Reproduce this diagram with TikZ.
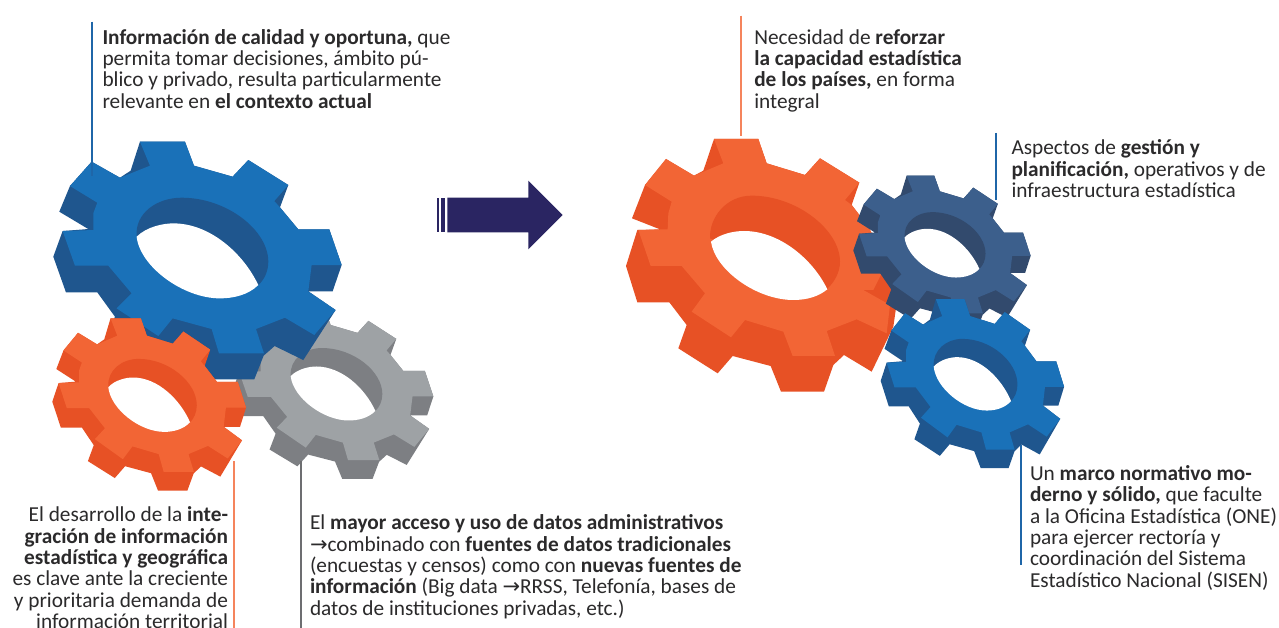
\documentclass[tikz,border=0pt]{standalone}
\usepackage{fontspec}
\setmainfont{Carlito}
\newfontfamily\arrowfont{DejaVu Sans}
\definecolor{blueL}{HTML}{1A71B8}
\definecolor{blueD}{HTML}{1F568E}
\definecolor{orangeL}{HTML}{F26535}
\definecolor{orangeD}{HTML}{E75125}
\definecolor{greyL}{HTML}{9EA2A5}
\definecolor{greyD}{HTML}{7D7F83}
\definecolor{navyL}{HTML}{3C5F8C}
\definecolor{navyD}{HTML}{324A6D}
\definecolor{arrowC}{HTML}{2A2562}
\definecolor{txt}{HTML}{2B2A2B}
\definecolor{leadO}{HTML}{F5845C}
\definecolor{leadB}{HTML}{1F66A8}
\definecolor{leadG}{HTML}{6D6E71}
\newcommand{\fl}{\rule{0pt}{16pt}}
\newcommand{\arr}{{\arrowfont\fontsize{21}{21.35}\selectfont →}}
\tikzset{
  textblock/.style={inner sep=0pt,outer sep=0pt,text=txt,font=\fontsize{21.3}{21.35}\selectfont},
  leftblock/.style={textblock,anchor=north west,align=left},
  rightblock/.style={textblock,anchor=north east,align=right},
  leader/.style={line width=1.8pt}
}
% \gearshape{X}{Y}{sx}{sy}{light}{dark}
\newcommand{\gearshape}[6]{%
\begin{scope}[shift={({#1-#3*40/3},{#2-#4*35/3})},xscale=#3/3,yscale=#4/3]
\fill[#6] (300,35)--(435,35)--(462,107)--(578,140)--(625,90)--(745,165)--(720,232)--(775,298)--(868,298)--(905,405)--(878,484)--(805,484)--(887,540)--(790,690)--(704,648)--(671,677)--(643,748)--(512,748)--(481,676)--(365,647)--(319,696)--(199,626)--(225,560)--(172,487)--(78,487)--(40,380)--(68,303)--(145,297)--(58,245)--(90,168)--(155,95)--(240,143)--(272,122)--cycle;
\fill[#5] (300,35)--(435,35)--(462,107)--(578,140)--(625,90)--(745,165)--(703,213)--(720,232)--(775,298)--(868,298)--(905,405)--(815,405)--(805,484)--(887,540)--(823,615)--(735,563)--(648,597)--(672,670)--(537,670)--(515,597)--(398,565)--(355,618)--(230,535)--(275,490)--(205,407)--(105,407)--(68,303)--(160,300)--(160,250)--(172,218)--(90,168)--(155,95)--(240,143)--(330,107)--cycle;
\fill[#6] (290,318) .. controls (285,250) and (350,203) .. (425,203) .. controls (560,203) and (685,300) .. (685,395) .. controls (685,425) and (672,450) .. (655,465) -- cycle;
\fill[white] (290,320) .. controls (320,290) and (370,280) .. (400,280) .. controls (510,280) and (610,370) .. (655,465) .. controls (625,495) and (580,505) .. (540,505) .. controls (430,505) and (300,410) .. (290,320) -- cycle;
\end{scope}}
\begin{document}
\begin{tikzpicture}[x=1pt,y=-1pt]
\useasboundingbox (0,0) rectangle (1279,628);
\fill[white] (0,0) rectangle (1279,628);
% left gears
\gearshape{232.7}{307.7}{.696}{.72}{greyL}{greyD}
\gearshape{53.3}{141.7}{1}{1}{blueL}{blueD}
\gearshape{52.3}{318.3}{.672}{.725}{orangeL}{orangeD}
% big orange gear, drawn to its own outline
\begin{scope}[shift={(620,130)},xscale=1/3,yscale=1/3]
\fill[orangeD] (282,27)--(415,27)--(440,100)--(555,135)--(600,85)--(718,158)--(695,225)--(745,290)--(800,400)--(830,520)--(820,590)--(755,725)--(672,675)--(640,705)--(612,785)--(483,785)--(452,708)--(338,678)--(293,730)--(175,655)--(200,585)--(148,517)--(52,517)--(18,408)--(52,300)--(120,298)--(36,265)--(75,165)--(138,87)--(222,137)--(250,122)--cycle;
\fill[orangeL] (282,27)--(415,27)--(440,100)--(555,135)--(600,85)--(718,158)--(675,210)--(695,225)--(745,290)--(800,400)--(760,480)--(730,480)--(810,525)--(800,610)--(710,568)--(620,603)--(645,678)--(518,678)--(490,605)--(375,570)--(333,622)--(215,545)--(255,490)--(185,408)--(92,408)--(55,300)--(143,298)--(145,250)--(155,215)--(75,165)--(138,87)--(222,137)--(310,100)--cycle;
\fill[orangeD] (270,325) .. controls (268,260) and (320,197) .. (395,197) .. controls (530,197) and (660,300) .. (660,395) .. controls (660,425) and (645,455) .. (620,478) -- cycle;
\fill[white] (273,335) .. controls (300,312) and (340,303) .. (372,303) .. controls (480,303) and (580,390) .. (622,478) .. controls (595,500) and (560,510) .. (520,510) .. controls (410,510) and (285,420) .. (273,335) -- cycle;
\end{scope}
% right gears
\gearshape{853.3}{175.7}{.615}{.65}{navyL}{navyD}
\gearshape{880.7}{299}{.636}{.712}{blueL}{blueD}
% arrow
\fill[arrowC] (436.7,197.7) rectangle (439.3,232.3);
\fill[arrowC] (441,197.7) rectangle (445.3,232.3);
\fill[arrowC] (447.3,197.7)--(528.3,197.7)--(528.3,180.7)--(562.7,215)--(528.3,249.3)--(528.3,232.3)--(447.3,232.3)--cycle;
% leaders
\coordinate (la) at (92.3,21.7); \coordinate (lb) at (92.3,176);
\coordinate (lc) at (234,461); \coordinate (ld) at (234,628);
\coordinate (le) at (300.7,461); \coordinate (lf) at (300.7,628);
\coordinate (lg) at (740.7,15.7); \coordinate (lh) at (740.7,136);
\coordinate (li) at (995.7,133); \coordinate (lj) at (995.7,200);
\coordinate (lk) at (1020.7,445); \coordinate (ll) at (1020.7,565);
\draw[leader,leadB] (la)--(lb);
\draw[leader,leadO] (lc)--(ld);
\draw[leader,leadG] (le)--(lf);
\draw[leader,leadO] (lg)--(lh);
\draw[leader,leadB] (li)--(lj);
\draw[leader,leadB] (lk)--(ll);
% texts
\node[leftblock] (t1) at (102.5,28.3) {\fl\textbf{Información de calidad y oportuna,} que\\permita tomar decisiones, ámbito pú-\\blico y privado, resulta particularmente\\relevante en \textbf{el contexto actual}};
\node[rightblock] (t2) at (228,505.7) {\fl El desarrollo de la \textbf{inte-}\\\textbf{gración de información}\\\textbf{estadística y geográfica}\\es clave ante la creciente\\y prioritaria demanda de\\información territorial};
\node[leftblock] (t3) at (310,513.8) {\fl El \textbf{mayor acceso y uso de datos administrativos}\\\arr combinado con \textbf{fuentes de datos tradicionales}\\(encuestas y censos) como con \textbf{nuevas fuentes de}\\\textbf{información} (Big data \arr RRSS, Telefonía, bases de\\datos de instituciones privadas, etc.)};
\node[leftblock] (t4) at (754.3,28.3) {\fl Necesidad de \textbf{reforzar}\\\textbf{la capacidad estadística}\\\textbf{de los países,} en forma\\integral};
\node[leftblock] (t5) at (1011.5,138.8) {\fl Aspectos de \textbf{gestión y}\\\textbf{planificación,} operativos y de\\infraestructura estadística};
\node[leftblock] (t6) at (1030,464.5) {\fl Un \textbf{marco normativo mo-}\\\textbf{derno y sólido,} que faculte\\a la Oficina Estadística (ONE)\\para ejercer rectoría y\\coordinación del Sistema\\Estadístico Nacional (SISEN)};
\end{tikzpicture}
\end{document}
